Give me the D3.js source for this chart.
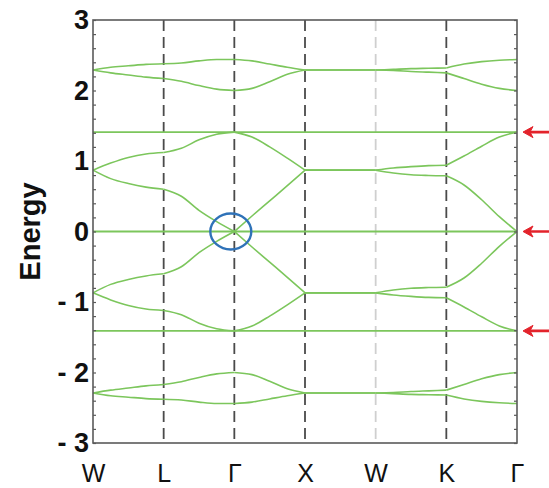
<!DOCTYPE html>
<html>
<head>
<meta charset="utf-8">
<script src="https://cdn.jsdelivr.net/npm/d3@7"></script>
<style>
  body { margin: 0; background: #fff; }
  svg { display: block; }
</style>
</head>
<body>
<svg id="chart" width="549" height="488"></svg>
<script>
// Sample positions along the k-path W-L-Γ-X-W-K-Γ (one unit per segment)
const kPoints = [0, 0.25, 0.5, 0.75, 1, 1.25, 1.5, 1.75, 2, 2.25, 2.5, 2.75, 3,
                 3.25, 3.5, 3.75, 4, 4.25, 4.5, 4.75, 5, 5.25, 5.5, 5.75, 6];
const pathLabels = ["W", "L", "Γ", "X", "W", "K", "Γ"];
const energyTicks = [-3, -2, -1, 0, 1, 2, 3];

// Dispersive bands, energies at each k sample
const bandTopUpper = [2.29, 2.33, 2.35, 2.37, 2.38, 2.39, 2.42, 2.44, 2.44, 2.42, 2.375, 2.33, 2.29,
                      2.29, 2.29, 2.29, 2.29, 2.30, 2.31, 2.315, 2.32, 2.375, 2.41, 2.43, 2.44];
const bandTopLower = [2.29, 2.25, 2.22, 2.19, 2.17, 2.13, 2.07, 2.02, 2.00, 2.03, 2.125, 2.23, 2.29,
                      2.29, 2.29, 2.29, 2.29, 2.285, 2.27, 2.26, 2.25, 2.17, 2.09, 2.03, 2.00];
const bandMidUpper = [0.87, 0.97, 1.05, 1.10, 1.12, 1.18, 1.30, 1.38, 1.41, 1.34, 1.20, 1.04, 0.87,
                      0.87, 0.87, 0.87, 0.87, 0.90, 0.92, 0.935, 0.94, 1.07, 1.21, 1.34, 1.41];
const bandMidLower = [0.87, 0.75, 0.68, 0.63, 0.60, 0.50, 0.30, 0.14, 0.00, 0.22, 0.435, 0.65, 0.87,
                      0.87, 0.87, 0.87, 0.87, 0.83, 0.805, 0.795, 0.79, 0.66, 0.45, 0.21, 0.00];
const bandNegMidUpper = [-0.87, -0.75, -0.68, -0.63, -0.60, -0.50, -0.30, -0.14, 0.00, -0.22, -0.435, -0.65, -0.87,
                         -0.87, -0.87, -0.87, -0.87, -0.83, -0.805, -0.795, -0.79, -0.66, -0.45, -0.21, 0.00];
const bandNegMidLower = [-0.87, -0.97, -1.05, -1.10, -1.12, -1.18, -1.30, -1.38, -1.41, -1.34, -1.20, -1.04, -0.87,
                         -0.87, -0.87, -0.87, -0.87, -0.90, -0.92, -0.935, -0.94, -1.07, -1.21, -1.34, -1.41];
const bandBotUpper = [-2.29, -2.25, -2.22, -2.19, -2.17, -2.13, -2.07, -2.02, -2.00, -2.03, -2.125, -2.23, -2.29,
                      -2.29, -2.29, -2.29, -2.29, -2.285, -2.27, -2.26, -2.25, -2.17, -2.09, -2.03, -2.00];
const bandBotLower = [-2.29, -2.33, -2.35, -2.37, -2.38, -2.39, -2.42, -2.44, -2.44, -2.42, -2.375, -2.33, -2.29,
                      -2.29, -2.29, -2.29, -2.29, -2.30, -2.31, -2.315, -2.32, -2.375, -2.41, -2.43, -2.44];

// Flat bands and the levels marked by arrows
const flatBands = [1.41, 0, -1.41];
const markedLevels = [1.41, 0, -1.41];

// Ellipse highlighting the band crossing at Γ (k units, energy units)
const crossing = { k: 1.95, e: 0, rk: 0.29, re: 0.255 };

const bands = [bandTopUpper, bandTopLower, bandMidUpper, bandMidLower,
               bandNegMidUpper, bandNegMidLower, bandBotUpper, bandBotLower];

const svg = d3.select("#chart");
const font = "'Liberation Sans', Arial, sans-serif";
const green = "#7cc65c";

const x = d3.scaleLinear().domain([0, 6]).range([93, 517]);
const y = d3.scaleLinear().domain([-3, 3]).range([443, 20]);

// Vertical dashed lines at the interior high-symmetry points
svg.append("g").selectAll("line")
  .data(d3.range(1, pathLabels.length - 1))
  .join("line")
  .attr("x1", d => x(d)).attr("x2", d => x(d))
  .attr("y1", y(3)).attr("y2", y(-3))
  .attr("stroke", d => d === 4 ? "#cfcfcf" : "#4a4a4a")
  .attr("stroke-width", 1.8)
  .attr("stroke-dasharray", "11,6");

// Dispersive bands, drawn one k-segment at a time so kinks stay at the symmetry points
const line = d3.line()
  .x(d => x(d[0]))
  .y(d => y(d[1]))
  .curve(d3.curveMonotoneX);

const segs = [];
bands.forEach(b => {
  for (let s = 0; s < 6; s++) {
    const pts = kPoints.map((k, i) => [k, b[i]]).filter(p => p[0] >= s && p[0] <= s + 1);
    segs.push(pts);
  }
});

svg.append("g").selectAll("path")
  .data(segs)
  .join("path")
  .attr("d", line)
  .attr("fill", "none")
  .attr("stroke", green)
  .attr("stroke-width", 1.6);

// Flat bands
svg.append("g").selectAll("line")
  .data(flatBands)
  .join("line")
  .attr("x1", x(0)).attr("x2", x(6))
  .attr("y1", d => y(d)).attr("y2", d => y(d))
  .attr("stroke", green)
  .attr("stroke-width", 1.8);

// Crossing ellipse
svg.append("ellipse")
  .attr("cx", x(crossing.k))
  .attr("cy", y(crossing.e))
  .attr("rx", x(crossing.rk) - x(0))
  .attr("ry", y(0) - y(crossing.re))
  .attr("fill", "none")
  .attr("stroke", "#2f72b8")
  .attr("stroke-width", 2.4);

// Frame
svg.append("rect")
  .attr("x", x(0)).attr("y", y(3))
  .attr("width", x(6) - x(0)).attr("height", y(-3) - y(3))
  .attr("fill", "none")
  .attr("stroke", "#5a5a5a")
  .attr("stroke-width", 1.6);

// Minor ticks on left and right axes
const minorTicks = d3.range(-15, 16).map(i => i / 5);
const leftMinor = svg.append("g").attr("transform", `translate(${x(0)},0)`)
  .call(d3.axisLeft(y).tickValues(minorTicks).tickSize(-3).tickFormat(""));
const rightMinor = svg.append("g").attr("transform", `translate(${x(6)},0)`)
  .call(d3.axisRight(y).tickValues(minorTicks).tickSize(-3).tickFormat(""));
[leftMinor, rightMinor].forEach(g => {
  g.select(".domain").remove();
  g.selectAll(".tick line").attr("stroke", "#5a5a5a").attr("stroke-width", 1.2);
});

// Energy axis labels
const yAxis = svg.append("g").attr("transform", `translate(${x(0)},0)`)
  .call(d3.axisLeft(y).tickValues(energyTicks).tickSize(0).tickPadding(4)
    .tickFormat(d => d < 0 ? "- " + Math.abs(d) : String(d)));
yAxis.select(".domain").remove();
yAxis.selectAll("text")
  .attr("font-family", font)
  .attr("font-size", 27)
  .attr("font-weight", "bold")
  .attr("fill", "#111");

// k-path labels
const xAxis = svg.append("g").attr("transform", `translate(0,${y(-3)})`)
  .call(d3.axisBottom(x).tickValues(d3.range(pathLabels.length)).tickSize(0).tickPadding(21)
    .tickFormat(d => pathLabels[d]));
xAxis.select(".domain").remove();
xAxis.selectAll("text")
  .attr("font-family", font)
  .attr("font-size", 25)
  .attr("fill", "#111");

// Axis title
svg.append("text")
  .attr("transform", `translate(40,${y(0)}) rotate(-90)`)
  .attr("text-anchor", "middle")
  .attr("font-family", font)
  .attr("font-size", 29)
  .attr("font-weight", "bold")
  .attr("fill", "#111")
  .text("Energy");

// Red arrows marking the flat-band levels
const arrows = svg.append("g").selectAll("g")
  .data(markedLevels)
  .join("g")
  .attr("transform", d => `translate(${x(6) + 6},${y(d)})`);
arrows.append("line")
  .attr("x1", 6).attr("x2", 40)
  .attr("y1", 0).attr("y2", 0)
  .attr("stroke", "#e3232b")
  .attr("stroke-width", 2.6);
arrows.append("path")
  .attr("d", "M0,0 L10,-5.5 L7,0 L10,5.5 Z")
  .attr("fill", "#e3232b")
  .attr("stroke", "#e3232b")
  .attr("stroke-width", 1);
</script>
</body>
</html>
